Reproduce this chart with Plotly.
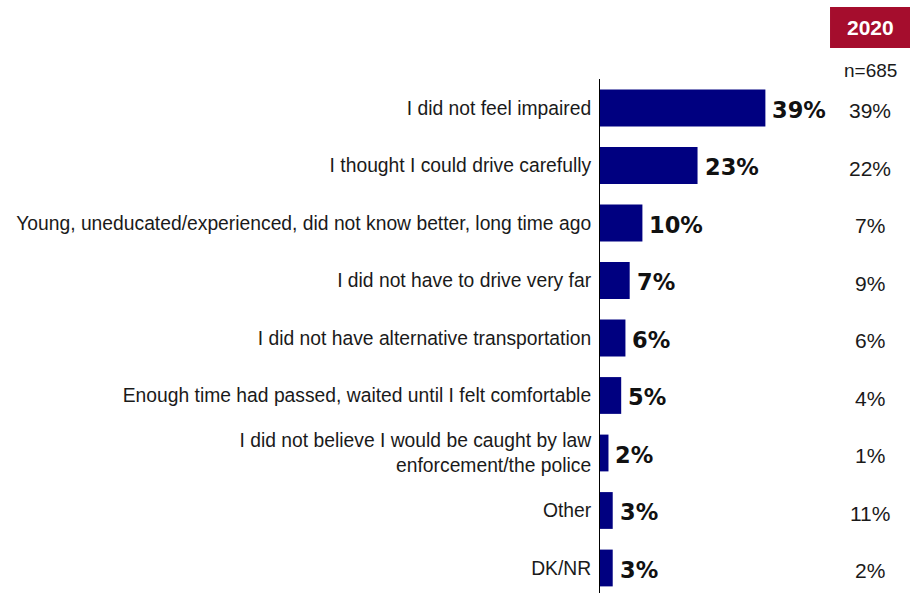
import plotly.graph_objects as go

categories = [
    "I did not feel impaired",
    "I thought I could drive carefully",
    "Young, uneducated/experienced, did not know better, long time ago",
    "I did not have to drive very far",
    "I did not have alternative transportation",
    "Enough time had passed, waited until I felt comfortable",
    "I did not believe I would be caught by law<br>enforcement/the police",
    "Other",
    "DK/NR",
]
values_current = [39, 23, 10, 7, 6, 5, 2, 3, 3]
values_2020 = [39, 22, 7, 9, 6, 4, 1, 11, 2]
year_label = "2020"
sample_label = "n=685"

LABEL_FONT = "Liberation Sans, Arial, sans-serif"

fig = go.Figure(
    go.Bar(
        x=values_current,
        y=categories,
        orientation="h",
        width=0.64,
        marker=dict(color="#000080", line=dict(width=0)),
        hoverinfo="skip",
    )
)

annotations = []
for cat, v in zip(categories, values_current):
    annotations.append(dict(
        x=v, y=cat, xref="x", yref="y", text=f"<b>{v}%</b>",
        showarrow=False, xanchor="left", xshift=5, yshift=-2,
        font=dict(family="DejaVu Sans", size=22.5, color="#111111"),
    ))
for cat, v in zip(categories, values_2020):
    annotations.append(dict(
        x=0.871, y=cat, xref="paper", yref="y", text=f"{v}%",
        showarrow=False, xanchor="center", yshift=-3,
        font=dict(family="Liberation Sans, Arial", size=21, color="#1a1a1a"),
    ))
annotations.append(dict(
    x=0.871, y=1.1002, xref="paper", yref="paper", text=f"<b>{year_label}</b>",
    showarrow=False, xanchor="center", yanchor="middle",
    font=dict(family="Liberation Sans, Arial", size=21, color="white"),
))
annotations.append(dict(
    x=0.871, y=1.0175, xref="paper", yref="paper", text=sample_label,
    showarrow=False, xanchor="center", yanchor="middle",
    font=dict(family="Liberation Sans, Arial", size=19, color="#1a1a1a"),
))

fig.update_layout(
    width=910, height=593,
    margin=dict(l=600, r=0, t=79, b=0, autoexpand=False),
    paper_bgcolor="white", plot_bgcolor="white",
    showlegend=False,
    annotations=annotations,
    shapes=[dict(type="rect", xref="paper", yref="paper",
                 x0=0.742, x1=1.0, y0=1.0603, y1=1.1401,
                 fillcolor="#A50D2D", line=dict(width=0), layer="above")],
    xaxis=dict(range=[0, 73.1], visible=False, fixedrange=True, automargin=False),
    yaxis=dict(
        type="category",
        range=[8.435, -0.504],
        automargin=False,
        showline=True, linecolor="black", linewidth=1,
        showgrid=False, zeroline=False, ticks="",
        ticklabelstandoff=4,
        tickfont=dict(family=LABEL_FONT, size=19.3, color="#1a1a1a"),
    ),
)

fig.write_html(
    "out.html",
    config={"displayModeBar": False},
    post_script="document.body.style.margin='0';document.body.style.padding='0';",
)
